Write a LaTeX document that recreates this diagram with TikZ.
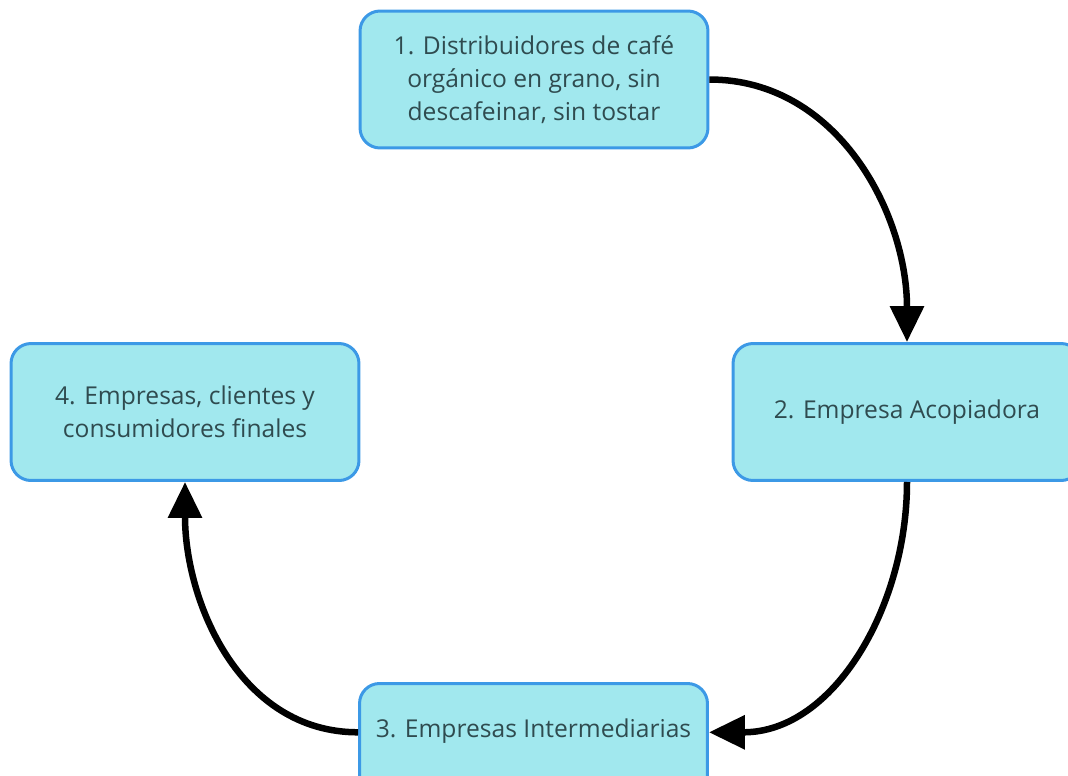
\documentclass[tikz,border=0pt]{standalone}
\usepackage{fontspec}
\setmainfont{Open Sans}
\usepackage{tikz}
\usetikzlibrary{arrows.meta}

\definecolor{cajafondo}{HTML}{A1E8EE}
\definecolor{cajaborde}{HTML}{3C99E6}
\definecolor{cajatexto}{HTML}{2F4B4F}

\tikzset{
  caja/.style={draw=cajaborde, fill=cajafondo, line width=0.06cm, rounded corners=0.4cm,
    minimum width=6.96cm, minimum height=2.74cm, align=center, text=cajatexto,
    font=\fontsize{14pt}{18.8pt}\selectfont},
  flecha/.style={-{Triangle[width=0.66cm,length=0.72cm]}, line width=0.13cm, black}
}

\begin{document}
\begin{tikzpicture}[x=0.02cm,y=-0.02cm]
  \useasboundingbox (0,0) rectangle (1068,775);

   \draw (534,79.5) node[caja] (distribuidores) {1. Distribuidores de café\\orgánico en grano, sin\\descafeinar, sin tostar};
  \draw (907,412) node[caja] (acopiadora) {2. Empresa Acopiadora};
	\draw (533.5,682) node[caja, anchor=north, inner sep=0pt, text height=1.07cm, text depth=1.67cm] (intermediarias) {3. Empresas Intermediarias};
  \draw (185,412) node[caja] (clientes) {4. Empresas, clientes y\\consumidores finales};

     \path[flecha] (distribuidores.east) edge[out=0, in=90] (acopiadora.north);
     \path[flecha] (acopiadora.south) edge[out=-90, in=0] (intermediarias.mid east);
 	  \path[flecha] (intermediarias.mid west) edge[out=180, in=-90] (clientes.south);

\end{tikzpicture}
\end{document}
